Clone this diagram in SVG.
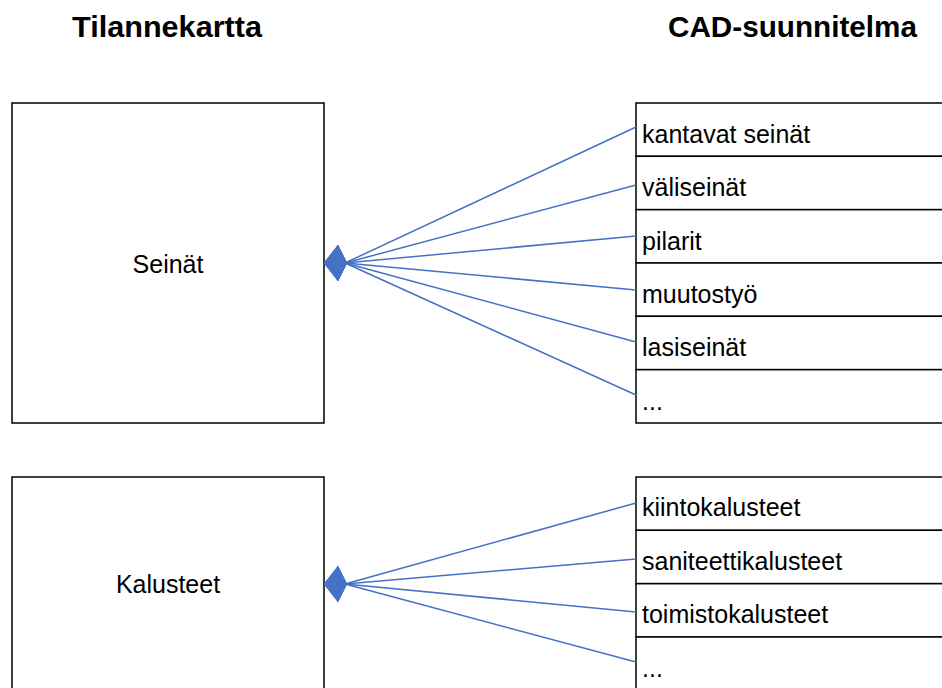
<svg xmlns="http://www.w3.org/2000/svg" width="942" height="688" viewBox="0 0 942 688">
<style>
.box{fill:#fff;stroke:#000;stroke-width:1.5}
.row{fill:#fff;stroke:#000;stroke-width:1.5}
.hdr{font-family:"Liberation Sans",Arial,sans-serif;font-weight:bold;font-size:30px;fill:#000}
.lbl{font-family:"Liberation Sans",Arial,sans-serif;font-size:25px;fill:#000}
.con{stroke:#4472C4;stroke-width:1.5;fill:none;marker-start:url(#dia)}
</style>
<defs>
<marker id="dia" markerUnits="userSpaceOnUse" markerWidth="26" markerHeight="40" refX="21" refY="19" orient="0" overflow="visible">
<path d="M0,19 L14,1 L23,19 L14,37 Z" fill="#4472C4"/>
</marker>
</defs>
<rect width="942" height="688" fill="#fff"/>
<text class="hdr" x="72" y="37" textLength="190" lengthAdjust="spacingAndGlyphs">Tilannekartta</text>
<text class="hdr" x="668" y="37" textLength="249" lengthAdjust="spacingAndGlyphs">CAD-suunnitelma</text>

<g id="seinat">
<rect class="box" x="12" y="103" width="312" height="320"/>
<text class="lbl" x="168" y="273" text-anchor="middle">Seinät</text>
</g>
<g id="kalusteet">
<rect class="box" x="12" y="477" width="312" height="230"/>
<text class="lbl" x="168" y="593" text-anchor="middle">Kalusteet</text>
</g>

<g id="cad-seinat">
<rect class="row" x="636" y="103" width="320" height="53.3"/>
<rect class="row" x="636" y="156.3" width="320" height="53.3"/>
<rect class="row" x="636" y="209.7" width="320" height="53.3"/>
<rect class="row" x="636" y="263" width="320" height="53.3"/>
<rect class="row" x="636" y="316.3" width="320" height="53.3"/>
<rect class="row" x="636" y="369.7" width="320" height="53.3"/>
<text class="lbl" x="642" y="143">kantavat seinät</text>
<text class="lbl" x="642" y="196">väliseinät</text>
<text class="lbl" x="642" y="250">pilarit</text>
<text class="lbl" x="642" y="303">muutostyö</text>
<text class="lbl" x="642" y="356">lasiseinät</text>
<text class="lbl" x="642" y="410">...</text>
</g>
<g id="cad-kalusteet">
<rect class="row" x="636" y="477" width="320" height="53.3"/>
<rect class="row" x="636" y="530.3" width="320" height="53.3"/>
<rect class="row" x="636" y="583.7" width="320" height="53.3"/>
<rect class="row" x="636" y="637" width="320" height="70"/>
<text class="lbl" x="642" y="516">kiintokalusteet</text>
<text class="lbl" x="642" y="570">saniteettikalusteet</text>
<text class="lbl" x="642" y="623">toimistokalusteet</text>
<text class="lbl" x="642" y="677">...</text>
</g>

<g id="connectors">
<line class="con" x1="345" y1="263" x2="636" y2="127"/>
<line class="con" x1="345" y1="263" x2="636" y2="185"/>
<line class="con" x1="345" y1="263" x2="636" y2="236"/>
<line class="con" x1="345" y1="263" x2="636" y2="290"/>
<line class="con" x1="345" y1="263" x2="636" y2="342"/>
<line class="con" x1="345" y1="263" x2="636" y2="395"/>
<line class="con" x1="345" y1="584" x2="636" y2="503"/>
<line class="con" x1="345" y1="584" x2="636" y2="559"/>
<line class="con" x1="345" y1="584" x2="636" y2="612"/>
<line class="con" x1="345" y1="584" x2="636" y2="662"/>
</g>
</svg>
